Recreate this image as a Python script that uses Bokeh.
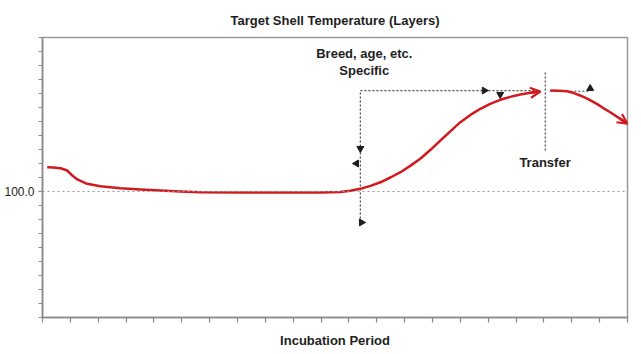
import numpy as np
from bokeh.plotting import figure
from bokeh.models import Span, Arrow, OpenHead, FixedTicker, Label, PrintfTickFormatter
from bokeh.embed import file_html
from bokeh.resources import INLINE

# Curve before transfer (incubation period units, temperature)
seg1_x = [0.17, 0.39, 0.65, 0.89, 1.07, 1.25, 1.60, 2.08, 2.80, 3.52, 4.23, 4.95, 5.67,
          7.10, 9.97, 10.69, 11.05, 11.41, 11.77, 12.13, 12.49, 12.85, 13.20, 13.56,
          13.92, 14.28, 14.64, 15.00, 15.36, 15.72, 16.07, 16.43, 16.79, 17.15, 17.51, 17.87]
seg1_y = [100.174, 100.171, 100.166, 100.150, 100.114, 100.086, 100.055, 100.038, 100.024,
          100.014, 100.007, 100.000, 99.995, 99.993, 99.993, 99.996, 100.005, 100.019,
          100.040, 100.066, 100.100, 100.138, 100.183, 100.234, 100.296, 100.364, 100.429,
          100.495, 100.547, 100.591, 100.626, 100.655, 100.676, 100.693, 100.705, 100.714]
# Curve after transfer
seg2_x = [18.23, 18.52, 18.83, 19.05, 19.30, 19.59, 19.90, 20.13, 20.38, 20.74, 21.0]
seg2_y = [100.721, 100.720, 100.716, 100.705, 100.686, 100.660, 100.626, 100.596, 100.566,
          100.519, 100.484]

# Guide lines
guide_x = [11.41, 11.41, 17.87]
guide_y = [99.779, 100.721, 100.721]
transfer_x = [18.05, 18.05]
transfer_y = [100.85, 100.293]
post_x = [18.23, 19.66]
post_y = [100.716, 100.716]

# Small arrowhead markers
mk_x = [11.41, 11.27, 11.45, 15.86, 16.43, 19.66]
mk_y = [100.307, 100.2, 99.779, 100.721, 100.693, 100.736]
mk_angle = [np.pi, np.pi / 2, -np.pi / 2, -np.pi / 2, np.pi, 0.0]

# Annotation texts
notes = ["Breed, age, etc.", "Specific", "Transfer"]
notes_x = [11.55, 11.55, 18.04]
notes_y = [100.983, 100.864, 100.204]

y_ticks = [round(99.1 + 0.1 * i, 1) for i in range(21)]
y_label_ticks = [100.0]
x_ticks = list(range(22))

FONT = "Liberation Sans"
RED = "#d21a1e"
TXT = "#1e1e1e"

p = figure(width=641, height=354, output_backend="svg", toolbar_location=None,
           x_range=(0, 21), y_range=(99.1, 101.1),
           min_border_left=42, min_border_right=14, min_border_top=0, min_border_bottom=37)
p.title.text = "Target Shell Temperature (Layers)"
p.title.align = "center"
p.title.text_font = FONT
p.title.text_font_size = "13px"
p.title.text_font_style = "bold"
p.title.text_color = TXT
p.title.standoff = 20

p.grid.visible = False
p.outline_line_color = "#999999"
p.outline_line_width = 1.5

p.xaxis.ticker = FixedTicker(ticks=[], minor_ticks=x_ticks)
p.xaxis.axis_label = "Incubation Period"
p.xaxis.axis_label_text_font = FONT
p.xaxis.axis_label_text_font_size = "13px"
p.xaxis.axis_label_text_font_style = "bold"
p.xaxis.axis_label_text_color = TXT
p.xaxis.axis_label_standoff = 10

p.yaxis.ticker = FixedTicker(ticks=y_label_ticks, minor_ticks=y_ticks)
p.yaxis.formatter = PrintfTickFormatter(format="%.1f")
p.yaxis.major_label_text_font = FONT
p.yaxis.major_label_text_font_size = "12px"
p.yaxis.major_label_text_color = TXT
p.yaxis.major_label_standoff = 4

for ax in (p.xaxis, p.yaxis):
    ax.axis_line_color = "#888888"
    ax.axis_line_width = 1.5
    ax.major_tick_line_color = "#888888"
    ax.major_tick_line_width = 1.2
    ax.minor_tick_line_color = "#888888"
    ax.minor_tick_line_width = 1.2
    ax.major_tick_in = 0
    ax.minor_tick_in = 0
p.xaxis.major_tick_out = 5
p.xaxis.minor_tick_out = 5
p.yaxis.major_tick_out = 4
p.yaxis.minor_tick_out = 4

p.add_layout(Span(location=100.0, dimension="width", line_color="#999999",
                  line_dash="2 3", line_width=1.2))

dcol = "#444444"
p.line(guide_x, guide_y, line_color=dcol, line_dash="2 2", line_width=1.2)
p.line(transfer_x, transfer_y, line_color=dcol, line_dash="2 2", line_width=1.2)
p.line(post_x, post_y, line_color=dcol, line_dash="2 2", line_width=1.2)

p.scatter(mk_x, mk_y, marker="triangle", angle=mk_angle, size=7,
          fill_color=TXT, line_color=TXT)

p.line(seg1_x, seg1_y, line_color=RED, line_width=2.5, line_join="round")
p.line(seg2_x, seg2_y, line_color=RED, line_width=2.5, line_join="round")
for xs, ys in ((seg1_x, seg1_y), (seg2_x, seg2_y)):
    p.add_layout(Arrow(end=OpenHead(size=10, line_color=RED, line_width=2.2),
                       x_start=xs[-2], y_start=ys[-2], x_end=xs[-1], y_end=ys[-1],
                       line_color=RED, line_width=2.5))

for txt, x, y in zip(notes, notes_x, notes_y):
    p.add_layout(Label(x=x, y=y, text=txt, text_align="center", text_baseline="middle",
                       text_font=FONT, text_font_size="13px", text_font_style="bold",
                       text_color=TXT))

open("out.html", "w").write(file_html(p, INLINE))
